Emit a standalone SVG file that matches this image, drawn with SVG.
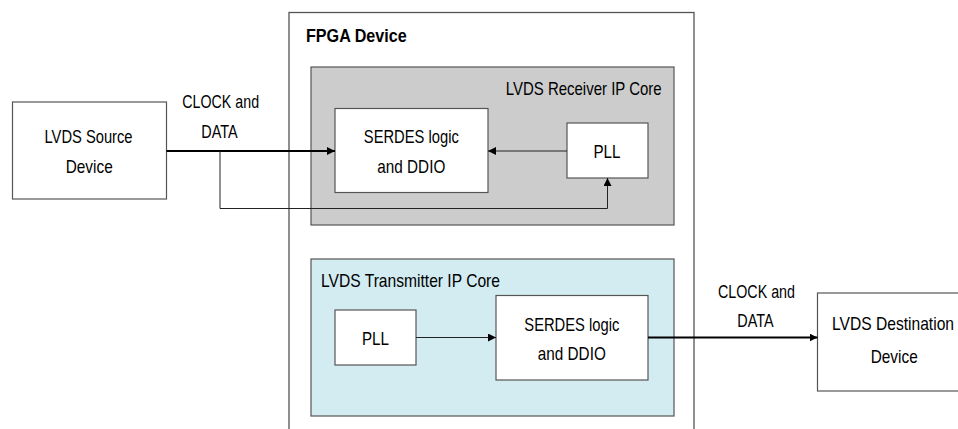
<svg xmlns="http://www.w3.org/2000/svg" width="958" height="429" viewBox="0 0 958 429">
<style>
text{font-family:"Liberation Sans",Arial,sans-serif;font-size:18.5px;fill:#000}
.c{text-anchor:middle}
.box{fill:#fff;stroke:#555;stroke-width:1.2}
.thin{fill:none;stroke:#222;stroke-width:1}
.thick{fill:none;stroke:#000;stroke-width:2}
</style>
<defs>
<marker id="ah" viewBox="0 0 10 10" refX="10" refY="5" markerWidth="8" markerHeight="8" markerUnits="userSpaceOnUse" orient="auto"><path d="M0,0 L10,5 L0,10 z" fill="#000"/></marker>
</defs>
<g id="fpga">
<rect x="289" y="12.5" width="405" height="430" fill="#fff" stroke="#555" stroke-width="1.3"/>
<text x="306" y="42" font-weight="bold" textLength="100.7" lengthAdjust="spacingAndGlyphs">FPGA Device</text>
</g>
<g id="rx-core">
<rect x="311" y="67" width="363" height="158" fill="#cccccc" stroke="#555" stroke-width="1.2"/>
<text x="505.7" y="95" textLength="156" lengthAdjust="spacingAndGlyphs">LVDS Receiver IP Core</text>
</g>
<g id="tx-core">
<rect x="311" y="259" width="363" height="157" fill="#d3ecf2" stroke="#555" stroke-width="1.2"/>
<text x="321" y="287" textLength="179" lengthAdjust="spacingAndGlyphs">LVDS Transmitter IP Core</text>
</g>
<g id="source">
<rect class="box" x="12.5" y="102" width="154" height="97"/>
<text class="c" x="88.5" y="143" textLength="88" lengthAdjust="spacingAndGlyphs">LVDS Source</text>
<text class="c" x="89.2" y="173" textLength="47" lengthAdjust="spacingAndGlyphs">Device</text>
</g>
<g id="rx-serdes">
<rect class="box" x="335" y="108.5" width="153" height="84"/>
<text class="c" x="411.3" y="142.5" textLength="95" lengthAdjust="spacingAndGlyphs">SERDES logic</text>
<text class="c" x="411.3" y="172.5" textLength="68" lengthAdjust="spacingAndGlyphs">and DDIO</text>
</g>
<g id="rx-pll">
<rect class="box" x="567" y="123" width="81" height="55"/>
<text class="c" x="607" y="158" textLength="27" lengthAdjust="spacingAndGlyphs">PLL</text>
</g>
<g id="tx-pll">
<rect class="box" x="335" y="310" width="81" height="55"/>
<text class="c" x="375.5" y="345" textLength="27" lengthAdjust="spacingAndGlyphs">PLL</text>
</g>
<g id="tx-serdes">
<rect class="box" x="496" y="295.5" width="152" height="84.5"/>
<text class="c" x="571.8" y="331" textLength="95" lengthAdjust="spacingAndGlyphs">SERDES logic</text>
<text class="c" x="571.8" y="360" textLength="68" lengthAdjust="spacingAndGlyphs">and DDIO</text>
</g>
<g id="dest">
<rect class="box" x="817.5" y="293" width="150" height="98"/>
<text class="c" x="893" y="330" textLength="122" lengthAdjust="spacingAndGlyphs">LVDS Destination</text>
<text class="c" x="894.2" y="363" textLength="47" lengthAdjust="spacingAndGlyphs">Device</text>
</g>
<g id="connectors">
<path class="thick" d="M166.5,151 H335" marker-end="url(#ah)"/>
<path class="thin" d="M220,151 V208.5 H607.5 V178" marker-end="url(#ah)"/>
<path class="thin" d="M567,151 H488" marker-end="url(#ah)"/>
<path class="thin" d="M416,337.5 H496" marker-end="url(#ah)"/>
<path class="thick" d="M648,337.5 H817.5" marker-end="url(#ah)"/>
<text class="c" x="220.7" y="108" textLength="76.7" lengthAdjust="spacingAndGlyphs">CLOCK and</text>
<text class="c" x="219.5" y="138" textLength="36.3" lengthAdjust="spacingAndGlyphs">DATA</text>
<text class="c" x="756.5" y="298" textLength="77" lengthAdjust="spacingAndGlyphs">CLOCK and</text>
<text class="c" x="755.5" y="327" textLength="36.3" lengthAdjust="spacingAndGlyphs">DATA</text>
</g>
</svg>
